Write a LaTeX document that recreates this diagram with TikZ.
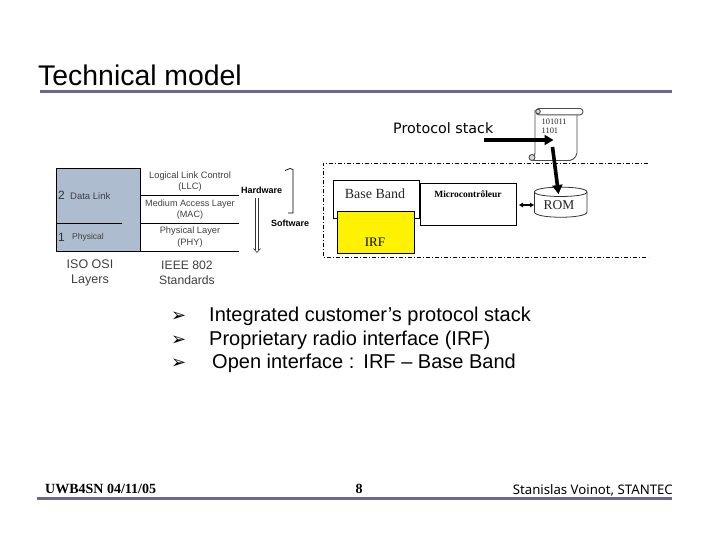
\documentclass[tikz,border=0pt]{standalone}
\usepackage{fontspec}
\setmainfont{Liberation Sans}
\newfontfamily\dejavu{DejaVu Sans}
\newfontfamily\notos{Noto Sans}
\newfontfamily\serifx{Liberation Serif}
\usetikzlibrary{arrows.meta,shapes.geometric}
\definecolor{rulec}{HTML}{6B6790}
\definecolor{osiblue}{HTML}{AEBCCF}
\tikzset{
  px/.style={font=\fontsize{#1}{#1}\selectfont},
  lbl/.style={inner sep=0pt,anchor=base west},
  ctr/.style={inner sep=0pt,anchor=center,align=center,text=black!75},
  slide rule/.style={draw=rulec,line width=3pt},
  box/.style={draw=black,line width=0.9pt,fill=white,inner sep=0pt},
  thick arrow/.style={draw=black,line width=3.6pt,-{Triangle[length=9pt,width=10pt]}},
  scroll line/.style={draw=black!70,line width=0.9pt},
}
\begin{document}
\begin{tikzpicture}[x=1pt,y=-1pt]
\useasboundingbox (0,0) rectangle (720,540);
\fill[white] (0,0) rectangle (720,540);
% title and rules
\node[lbl,px=28.4] (title) at (38,86) {Technical model};
\draw[slide rule] (40,91.5) -- (672,91.5);
\draw[slide rule] (37,498.5) -- (672,498.5);
% OSI block
\node[draw=black,fill=osiblue,line width=0.8pt,minimum width=84pt,minimum height=83pt,inner sep=0pt,anchor=north west] (osi) at (56,168) {};
\draw[black,line width=0.8pt] (56,223) -- (122,223);
\draw[black,line width=0.8pt] (140,195) -- (239,195);
\draw[black,line width=0.8pt] (140,223) -- (239,223);
\draw[black,line width=0.8pt] (140,251) -- (239,251);
\node[lbl,px=12,text=black!80] (n2) at (58,200) {2};
\node[lbl,px=9.5,text=black!75] (dl) at (70,199.5) {Data Link};
\node[lbl,px=12,text=black!80] (n1) at (58,241) {1};
\node[lbl,px=8.5,text=black!75] (ph) at (72,240) {Physical};
\node[ctr,px=9.3] (llc) at (190,181.5) {Logical Link Control\\[1.5pt](LLC)};
\node[ctr,px=9.1] (mac) at (190,209.5) {Medium Access Layer\\[2pt](MAC)};
\node[ctr,px=9.3] (phy) at (190,237) {Physical Layer\\[2pt](PHY)};
\node[ctr,px=12.5] (iso) at (90,272.5) {ISO OSI\\[2.5pt]Layers};
\node[ctr,px=12.2] (ieee) at (187,272.5) {IEEE 802\\[2.5pt]Standards};
\node[lbl,px=9] (hw) at (241,194) {\textbf{Hardware}};
\node[lbl,px=9] (sw) at (271,226) {\textbf{Software}};
% hollow arrow
\coordinate (hwa) at (255.5,198);
\coordinate (hwb) at (255.5,250);
\coordinate (hwc) at (258.5,198);
\coordinate (hwd) at (258.5,250);
\coordinate (hwe) at (253.5,248.5);
\coordinate (hwf) at (257,252.5);
\coordinate (hwg) at (260.5,248.5);
\draw[black!80,line width=0.6pt] (hwa) -- (hwb);
\draw[black!80,line width=0.6pt] (hwc) -- (hwd);
\draw[black!80,line width=0.6pt] (hwe) -- (hwf) -- (hwg);
% bracket
\coordinate (brt) at (285,170.5);
\coordinate (brh) at (290,168.5);
\coordinate (brm) at (293,169.5);
\coordinate (brb) at (293,213);
\coordinate (bre) at (288,213);
\draw[black,line width=0.7pt] (brt) -- (brh) -- (brm) -- (brb) -- (bre);
% dashed frame
\coordinate (fa) at (648,163);
\coordinate (fb) at (323,163);
\coordinate (fc) at (323,257);
\coordinate (fd) at (648,257);
\draw[black,line width=0.6pt,dash pattern=on 4pt off 2pt on 1pt off 2pt] (fa) -- (fb) -- (fc) -- (fd);
% boxes
\node[box,minimum width=86pt,minimum height=38pt,anchor=north west] (bb) at (333,180) {};
\node[inner sep=0pt,px=14,text=black!85,anchor=base] (bbt) at (375,199) {\serifx Base Band};
\node[draw=black,line width=0.9pt,fill=yellow,minimum width=77pt,minimum height=42pt,inner sep=0pt,anchor=north west] (irf) at (337,211) {};
\node[inner sep=0pt,px=13,anchor=base] (irft) at (375,246) {\serifx IRF};
\node[box,minimum width=95.5pt,minimum height=42pt,anchor=north west] (mc) at (420,183) {};
\node[inner sep=0pt,px=9.5,anchor=base] (mct) at (468,197) {\serifx\textbf{Microcontrôleur}};
% ROM
\draw[black!80,line width=0.8pt,fill=white] (534.5,192) .. controls (534.5,185.5) and (587,185.5) .. (587,192)
  -- (587,212) .. controls (587,219) and (534.5,219) .. (534.5,212) -- cycle;
\draw[black!80,line width=0.8pt] (534.5,192) .. controls (534.5,198) and (587,198) .. (587,192);
\node[inner sep=0pt,px=13.5,text=black!85,anchor=base] (rom) at (559,210) {\serifx ROM};
\coordinate (rw) at (534,205);
\coordinate (me) at (519,205);
\draw[black,line width=1.2pt,{Triangle[length=4pt,width=4.5pt]}-{Triangle[length=4pt,width=4.5pt]}] (me) -- (rw);
% scroll
\draw[scroll line,rounded corners=2pt,fill=white] (535,110) -- (535,155) -- (532,160.5) -- (572,160.5) -- (577,155) -- (577,115);
\draw[scroll line,fill=white] (539,108.5) -- (580,108.5) arc (-90:90:3 and 3.2) -- (539,114.9) arc (90:270:3 and 3.2) -- cycle;
\draw[scroll line,fill=black!15] (538,111.5) circle (2.3);
\draw[scroll line,fill=black!15] (532,157.5) circle (3);
\node[lbl,px=8.4,text=black!85] (s1) at (541.5,124.5) {\serifx 101011};
\node[lbl,px=8.4,text=black!85] (s2) at (541.5,133.5) {\serifx 1101};
\coordinate (scr) at (553.5,140);
% labels and connectors
\node[lbl,px=14.3] (ps) at (393,133.5) {\dejavu Protocol stack};
\coordinate (psa) at (484,140);
\draw[thick arrow] (psa) -- (scr);
\coordinate (sa) at (552.5,147);
\coordinate (ra) at (558.5,194);
\draw[thick arrow] (sa) -- (ra);
% bullets
\node[lbl,px=18] (b1) at (171,321) {\dejavu ➢};
\node[lbl,px=18] (b2) at (171,345) {\dejavu ➢};
\node[lbl,px=18] (b3) at (171,368) {\dejavu ➢};
\node[lbl,px=20] (t1) at (209,321) {Integrated customer’s protocol stack};
\node[lbl,px=20] (t2) at (209,345) {Proprietary radio interface (IRF)};
\node[lbl,px=20] (t3) at (212,368) {Open interface :\hspace{9pt}IRF – Base Band};
% footer
\node[lbl,px=14] (f1) at (45,493) {\serifx\textbf{UWB4SN 04/11/05}};
\node[inner sep=0pt,px=14,anchor=base] (f2) at (359,493) {\serifx\textbf{8}};
\node[inner sep=0pt,px=13.2,anchor=base east] (f3) at (673,494) {\notos Stanislas Voinot, STANTEC};
\end{tikzpicture}
\end{document}
